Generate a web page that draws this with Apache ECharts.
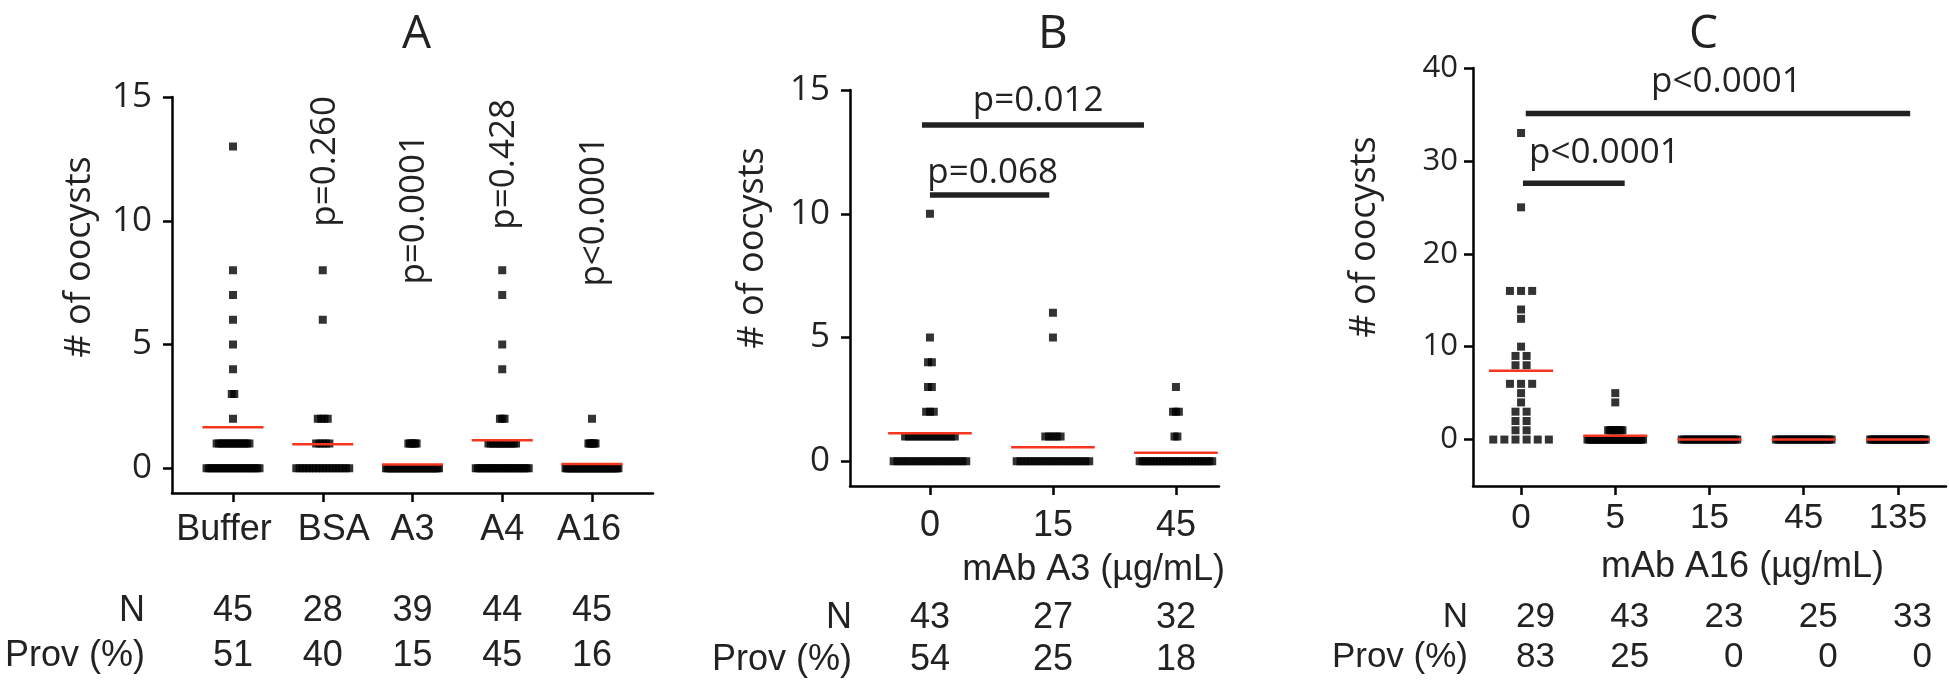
<!DOCTYPE html>
<html>
<head>
<meta charset="utf-8">
<script src="https://cdn.jsdelivr.net/npm/echarts@6/dist/echarts.min.js"></script>
<style>
html,body{margin:0;padding:0;background:#fff;}
#main{width:1949px;height:683px;}
</style>
</head>
<body>
<div id="main"></div>
<script>
// ---- data ----
// each group: [oocyst count, number of mosquitoes with that count]
var catsA = ['Buffer', 'BSA', 'A3', 'A4', 'A16'];
var dotsA = [
  [[0,22],[1,14],[2,1],[3,2],[4,1],[5,1],[6,1],[7,1],[8,1],[13,1]],
  [[0,17],[1,5],[2,4],[6,1],[8,1]],
  [[0,33],[1,6]],
  [[0,24],[1,13],[2,3],[4,1],[5,1],[7,1],[8,1]],
  [[0,38],[1,6],[2,1]]
];
var meanA = [1.66, 0.97, 0.15, 1.13, 0.17];
var pA = ['', 'p=0.260', 'p=0.0001', 'p=0.428', 'p<0.0001'];
var nA = [45, 28, 39, 44, 45];
var provA = [51, 40, 15, 45, 16];

var catsB = ['0', '15', '45'];
var dotsB = [
  [[0,20],[1,14],[2,3],[3,2],[4,2],[5,1],[10,1]],
  [[0,20],[1,5],[5,1],[6,1]],
  [[0,26],[1,2],[2,3],[3,1]]
];
var meanB = [1.13, 0.57, 0.34];
var pB = ['p=0.068', 'p=0.012'];
var nB = [43, 27, 32];
var provB = [54, 25, 18];

var catsC = ['0', '5', '15', '45', '135'];
var dotsC = [
  [[0,6],[1,2],[2,2],[3,2],[4,1],[5,1],[6,3],[8,2],[9,2],[10,1],[13,1],[14,1],[16,3],[25,1],[33,1]],
  [[0,32],[1,9],[4,1],[5,1]],
  [[0,23]],
  [[0,25]],
  [[0,33]]
];
var meanC = [7.4, 0.4, 0, 0, 0];
var pC = ['p<0.0001', 'p<0.0001'];
var nC = [29, 43, 23, 25, 33];
var provC = [83, 25, 0, 0, 0];

var yTicksAB = [0, 5, 10, 15];
var yTicksC = [0, 10, 20, 30, 40];

// ---- layout (axis units) ----
var pAnchorA = [null, 9.76, 7.42, 9.64, 7.34];
var barsB = [[0, 0.97, 10.76], [-0.065, 1.74, 13.59]];
var barsC = [[0.02, 1.1, 27.6], [0.05, 4.13, 35.1]];
// small sideways nudges of the panel A group names (px, + = right)
var labShiftA = [-9, 11, 0, 0, -3];

var TXT = '#222';
var SANS = 'Open Sans';
var ARIAL = 'Liberation Sans';

function dotSeries(groups, gi) {
  var pts = [];
  groups.forEach(function (rows, g) {
    var maxk = Math.max.apply(null, rows.map(function (r) { return r[1]; }));
    var pitch = maxk > 1 ? Math.min(0.12, 0.59 / (maxk - 1)) : 0;
    rows.forEach(function (r) {
      for (var i = 0; i < r[1]; i++) {
        pts.push([g + (i - (r[1] - 1) / 2) * pitch, r[0]]);
      }
    });
  });
  return {
    type: 'scatter', xAxisIndex: gi, yAxisIndex: gi, data: pts,
    symbol: 'rect', symbolSize: 8, itemStyle: {color: '#000'},
    silent: true, z: 2
  };
}

function hLineSeries(data, gi, color, width, z) {
  return {
    type: 'custom', xAxisIndex: gi, yAxisIndex: gi, data: data, z: z, silent: true,
    renderItem: function (params, api) {
      var a = api.coord([api.value(0), api.value(2)]);
      var b = api.coord([api.value(1), api.value(2)]);
      return {
        type: 'line',
        shape: {x1: a[0], y1: a[1], x2: b[0], y2: b[1]},
        style: {stroke: color, lineWidth: width}
      };
    }
  };
}

function meanData(means) {
  return means.map(function (m, g) { return [g - 0.34, g + 0.34, m]; });
}

function xAx(gi, min, max, labels, margin, size, shifts) {
  var idx = labels.map(function (l, i) { return i; });
  var rich = {};
  labels.forEach(function (l, i) {
    var s = shifts ? shifts[i] : 0;
    rich['c' + i] = {
      fontFamily: ARIAL, fontSize: size, color: TXT,
      padding: [0, s < 0 ? -2 * s : 0, 0, s > 0 ? 2 * s : 0]
    };
  });
  return {
    type: 'value', gridIndex: gi, min: min, max: max,
    axisLine: {show: true, onZero: false, lineStyle: {color: '#000', width: 2.5}},
    axisTick: {show: true, customValues: idx, length: 9, lineStyle: {color: '#000', width: 2.5}},
    axisLabel: {
      customValues: idx, margin: margin, color: TXT, fontFamily: ARIAL, fontSize: size,
      formatter: function (v) {
        var i = Math.round(v);
        return '{c' + i + '|' + labels[i] + '}';
      },
      rich: rich
    },
    splitLine: {show: false}
  };
}

function yAx(gi, min, max, ticks, margin, size) {
  return {
    type: 'value', gridIndex: gi, min: min, max: max,
    axisLine: {show: true, onZero: false, lineStyle: {color: '#000', width: 2.5}},
    axisTick: {show: true, customValues: ticks, length: 9, lineStyle: {color: '#000', width: 2.5}},
    axisLabel: {customValues: ticks, margin: margin, color: TXT, fontFamily: SANS, fontSize: size},
    splitLine: {show: false}
  };
}

var option = {
  animation: false,
  backgroundColor: '#fff',
  grid: [
    {left: 172, right: 1296, top: 97, bottom: 190},
    {left: 850, right: 730, top: 90, bottom: 197},
    {left: 1473, right: 3, top: 68, bottom: 197}
  ],
  xAxis: [
    xAx(0, -0.68, 4.68, catsA, 19, 36, labShiftA),
    xAx(1, -0.65, 2.35, catsB, 22, 36),
    xAx(2, -0.51, 4.51, catsC, 15, 35)
  ],
  yAxis: [
    yAx(0, -1, 15, yTicksAB, 20, 35),
    yAx(1, -1, 15, yTicksAB, 20, 35),
    yAx(2, -5, 40, yTicksC, 15, 31)
  ],
  series: [
    dotSeries(dotsA, 0),
    dotSeries(dotsB, 1),
    dotSeries(dotsC, 2),
    hLineSeries(meanData(meanA), 0, '#f5361f', 2.5, 5),
    hLineSeries(meanData(meanB), 1, '#f5361f', 2.5, 5),
    hLineSeries(meanData(meanC), 2, '#f5361f', 2.5, 5),
    hLineSeries(barsB, 1, '#222', 5.5, 4),
    hLineSeries(barsC, 2, '#222', 5.5, 4)
  ]
};

var chart = echarts.init(document.getElementById('main'));
chart.setOption(option);

function px(gi, x, y) { return chart.convertToPixel({gridIndex: gi}, [x, y]); }
var gfx = [];
function text(x, y, s, font, align, vAlign, rot) {
  gfx.push({
    type: 'text', x: x, y: y, rotation: rot || 0, silent: true,
    style: {text: s, font: font, fill: TXT, align: align, verticalAlign: vAlign}
  });
}
var fTitle = 'normal 46px "' + SANS + '"';
var fLab = 'normal 36px "' + SANS + '"';
var fP = 'normal 35px "' + SANS + '"';
var fTab = 'normal 36px "' + ARIAL + '"';
var fTabC = 'normal 35px "' + ARIAL + '"';

// panel titles over the middle group
text(px(0, 2, 0)[0] + 4, 35, 'A', fTitle, 'center', 'middle');
text(px(1, 1, 0)[0], 35, 'B', fTitle, 'center', 'middle');
text(px(2, 2, 0)[0] - 6, 35, 'C', fTitle, 'center', 'middle');

// y axis titles
var axA = px(0, -0.68, 15), axB = px(1, -0.65, 15), axC = px(2, -0.51, 40);
text(axA[0] - 92, axA[1] + 160, '# of oocysts', fLab, 'center', 'middle', Math.PI / 2);
text(axB[0] - 97, axB[1] + 158, '# of oocysts', fLab, 'center', 'middle', Math.PI / 2);
text(axC[0] - 108, axC[1] + 169, '# of oocysts', fLab, 'center', 'middle', Math.PI / 2);

// panel A p-values, rotated above each group
pA.forEach(function (s, g) {
  if (!s) return;
  var p = px(0, g + 0.02, pAnchorA[g]);
  text(p[0], p[1], s, fP, 'left', 'middle', Math.PI / 2);
});

// panel B and C bracket labels
var pb0 = px(1, 0.51, 11.63), pb1 = px(1, 0.88, 14.56);
text(pb0[0], pb0[1], pB[0], fP, 'center', 'middle');
text(pb1[0], pb1[1], pB[1], fP, 'center', 'middle');
var pc0 = px(2, 0.085, 30.8), pc1 = px(2, 2.18, 38.5);
text(pc0[0], pc0[1], pC[0], fP, 'left', 'middle');
text(pc1[0], pc1[1], pC[1], fP, 'center', 'middle');

// x axis titles
var xb = px(1, 1.33, 0), xc = px(2, 2.35, 0);
text(xb[0], 570, 'mAb A3 (\u00b5g/mL)', fTab, 'center', 'middle');
text(xc[0], 567, 'mAb A16 (\u00b5g/mL)', fTab, 'center', 'middle');

// N / Prov tables
text(axA[0] - 27, 611, 'N', fTab, 'right', 'middle');
text(axA[0] - 27, 656, 'Prov (%)', fTab, 'right', 'middle');
nA.forEach(function (v, g) {
  var x = px(0, g, 0)[0];
  text(x, 611, String(v), fTab, 'center', 'middle');
  text(x, 656, String(provA[g]), fTab, 'center', 'middle');
});
text(axB[0] + 2, 618, 'N', fTab, 'right', 'middle');
text(axB[0] + 2, 660, 'Prov (%)', fTab, 'right', 'middle');
nB.forEach(function (v, g) {
  var x = px(1, g, 0)[0];
  text(x, 618, String(v), fTab, 'center', 'middle');
  text(x, 660, String(provB[g]), fTab, 'center', 'middle');
});
text(axC[0] - 5, 617, 'N', fTabC, 'right', 'middle');
text(axC[0] - 5, 657, 'Prov (%)', fTabC, 'right', 'middle');
nC.forEach(function (v, g) {
  var x = px(2, g, 0)[0] + 34;
  text(x, 617, String(v), fTabC, 'right', 'middle');
  text(x, 657, String(provC[g]), fTabC, 'right', 'middle');
});

chart.setOption({graphic: gfx});
</script>
</body>
</html>
